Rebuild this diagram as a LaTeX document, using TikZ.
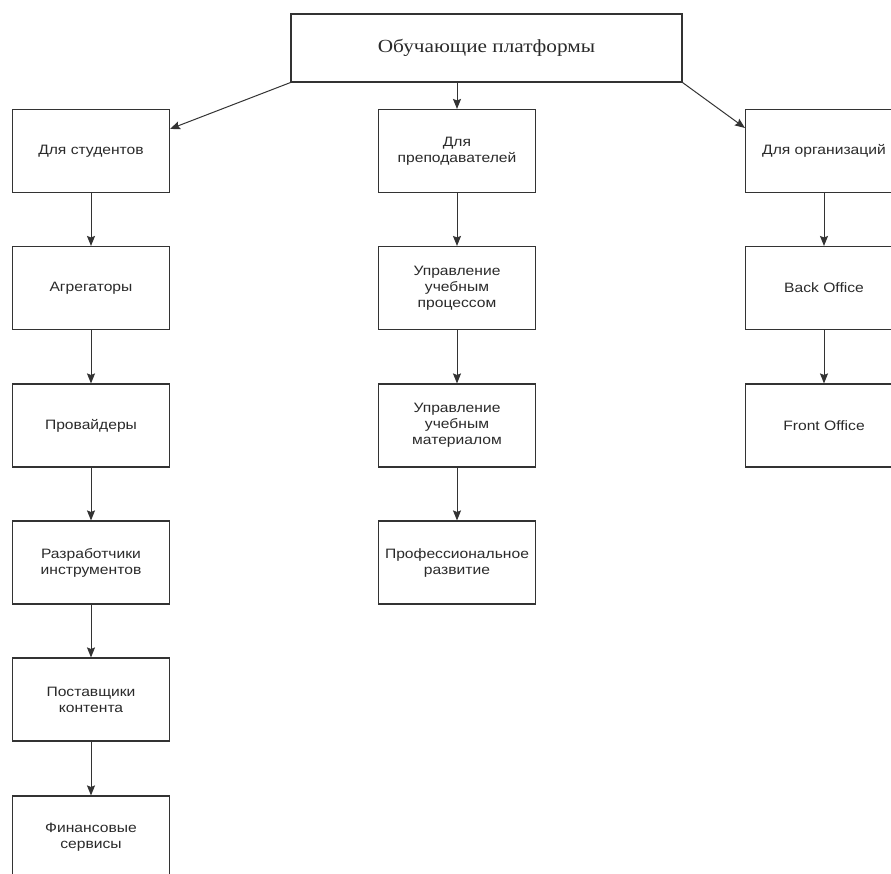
\documentclass[tikz,border=0pt]{standalone}
\usepackage{fontspec}
\setmainfont[FakeStretch=1.15]{Liberation Serif}
\setsansfont[FakeStretch=1.15]{Liberation Sans}
\usetikzlibrary{arrows.meta}
\definecolor{ln}{HTML}{333333}
\definecolor{tx}{HTML}{2A2A2A}
\tikzset{
  box/.style={draw=ln, line width=1.1pt, fill=white, minimum width=157pt, minimum height=83pt,
    inner sep=2pt, align=center, text=tx, font=\sffamily\fontsize{13.6}{16}\selectfont},
  topbox/.style={draw=ln, line width=1.1pt, fill=white, minimum width=391pt, minimum height=68pt,
    text=tx, font=\rmfamily\fontsize{18.5}{21}\selectfont},
  conn/.style={draw=ln, line width=1pt, -{Stealth[length=10pt,width=8pt,inset=1.5pt]}}
}
\begin{document}
\begin{tikzpicture}[x=1pt,y=1pt]
\useasboundingbox (0,0) rectangle (891,-874);
\clip (0,0) rectangle (891,-874);
\fill[white] (0,0) rectangle (891,-874);
\node[topbox] (top) at (486.5,-48) {Обучающие платформы};
% left column
\node[box] (s1) at (91,-151) {Для студентов};
\node[box] (s2) at (91,-288) {Агрегаторы};
\node[box] (s3) at (91,-425.5) {Провайдеры};
\node[box] (s4) at (91,-562.5) {Разработчики\\инструментов};
\node[box] (s5) at (91,-699.5) {Поставщики\\контента};
\node[box] (s6) at (91,-837.5) {Финансовые\\сервисы};
% middle column
\node[box] (t1) at (457,-151) {Для\\преподавателей};
\node[box] (t2) at (457,-288) {Управление\\учебным\\процессом};
\node[box] (t3) at (457,-425.5) {Управление\\учебным\\материалом};
\node[box] (t4) at (457,-562.5) {Профессиональное\\развитие};
% right column
\node[box] (o1) at (824,-151) {Для организаций};
\node[box] (o2) at (824,-288) {Back Office};
\node[box] (o3) at (824,-425.5) {Front Office};
% connectors
\draw[conn] (top.south west) -- ([yshift=-20pt]s1.north east);
\draw[conn] (top.south -| t1.north) -- (t1.north);
\draw[conn] (top.south east) -- ([yshift=-19pt]o1.north west);
\draw[conn] (s1) -- (s2);
\draw[conn] (s2) -- (s3);
\draw[conn] (s3) -- (s4);
\draw[conn] (s4) -- (s5);
\draw[conn] (s5) -- (s6);
\draw[conn] (t1) -- (t2);
\draw[conn] (t2) -- (t3);
\draw[conn] (t3) -- (t4);
\draw[conn] (o1) -- (o2);
\draw[conn] (o2) -- (o3);
\end{tikzpicture}
\end{document}
